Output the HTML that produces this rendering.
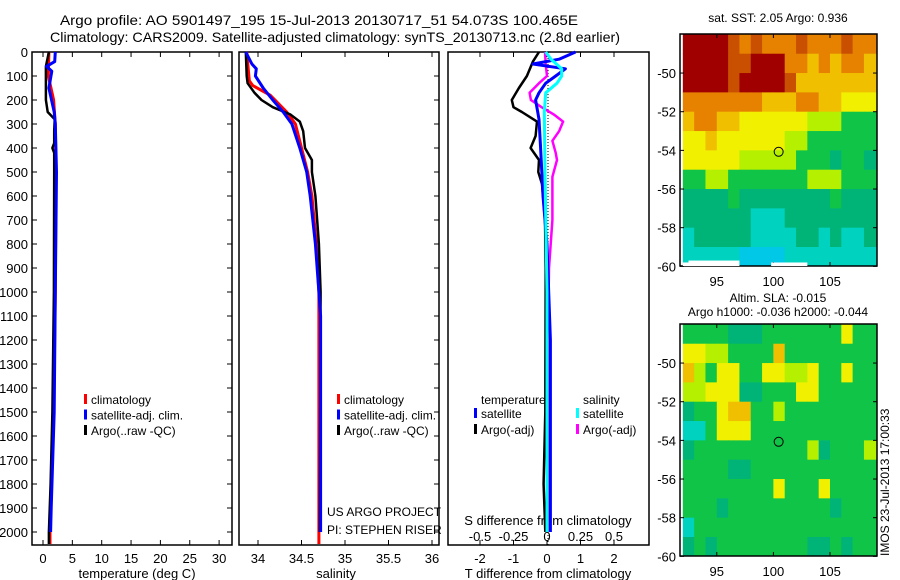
<!DOCTYPE html>
<html><head><meta charset="utf-8"><style>
body{margin:0;background:#fff}
svg{display:block;font-family:"Liberation Sans",sans-serif}
</style></head><body>
<svg id="c" width="900" height="580" viewBox="0 0 900 580">
<text x="60" y="25" font-size="14" textLength="518" lengthAdjust="spacingAndGlyphs">Argo profile: AO 5901497_195 15-Jul-2013 20130717_51 54.073S 100.465E</text>
<text x="50" y="42" font-size="14" textLength="570" lengthAdjust="spacingAndGlyphs">Climatology: CARS2009. Satellite-adjusted climatology: synTS_20130713.nc (2.8d earlier)</text>
<text x="778" y="22" font-size="12" text-anchor="middle">sat. SST: 2.05 Argo: 0.936</text>
<text x="778" y="302" font-size="12" text-anchor="middle">Altim. SLA: -0.015</text>
<text x="778" y="316" font-size="12" text-anchor="middle">Argo h1000: -0.036 h2000: -0.044</text>
<text x="0" y="0" font-size="12" transform="translate(889,556) rotate(-90)">IMOS 23-Jul-2013 17:00:33</text>
</svg>
<script>
// ---- data ----
const depthTicks=[0,100,200,300,400,500,600,700,800,900,1000,1100,1200,1300,1400,1500,1600,1700,1800,1900,2000];
const tempTicks=[0,5,10,15,20,25,30];
const salTicks=[34,34.5,35,35.5,36];
const tdiffTicks=[-2,-1,0,1,2];
const sdiffTicks=[-0.5,-0.25,0,0.25,0.5];
const lonTicks=[95,100,105];
const latTicks=[-50,-52,-54,-56,-58,-60];

const tArgoD=[0,60,200,250,280,330,380,400,420,500,1000,1500,1800,2000,2050];
const tArgoV=[1.0,0.5,0.5,0.8,2.0,1.9,1.9,1.6,1.9,1.9,1.85,1.6,1.3,1.0,1.0];
const tClimD=[0,100,200,300,500,1000,1500,1900,2000,2050];
const tClimV=[1.0,0.9,1.8,2.1,2.2,2.1,1.8,1.3,1.2,1.2];
const tSatD=[0,40,60,80,150,250,300,500,1000,1500,1900,2000];
const tSatV=[2.1,2.0,0.6,1.5,1.0,1.9,2.1,2.3,2.1,1.9,1.4,1.3];

const sArgoD=[0,100,130,170,200,230,260,290,330,400,450,500,600,800,1000,2000];
const sArgoV=[33.86,33.87,33.88,33.96,34.04,34.17,34.37,34.48,34.52,34.54,34.62,34.62,34.66,34.70,34.72,34.71];
const sClimD=[0,120,140,180,250,300,400,500,600,800,1000,2050];
const sClimV=[33.87,33.9,33.94,34.14,34.33,34.43,34.5,34.57,34.62,34.67,34.70,34.70];
const sSatD=[0,50,70,100,150,200,250,300,400,500,600,800,1000,1100,2000];
const sSatV=[33.86,33.93,33.98,33.97,34.06,34.17,34.29,34.39,34.48,34.56,34.6,34.66,34.70,34.72,34.72];

const dtArgoD=[0,40,100,150,200,230,250,290,350,400,450,500,550,700,900,1500,1800,2000];
const dtArgoV=[-0.24,-0.42,-0.6,-0.84,-1.05,-1.0,-0.75,-0.3,-0.34,-0.49,-0.24,-0.26,-0.15,-0.06,-0.04,-0.05,-0.1,-0.05];
const dtSatD=[0,30,50,70,100,130,170,200,280,400,600,800,1200,2000];
const dtSatV=[0.85,0.36,-0.42,0.55,0.26,-0.04,-0.24,-0.34,-0.24,-0.19,-0.12,0.0,0.1,0.1];
const dsSatD=[0,30,70,100,130,170,250,500,1000,2000];
const dsSatV=[-0.01,0.03,0.11,0.11,0.075,-0.01,-0.02,-0.015,0,0];
const dsArgoD=[0,50,100,130,170,200,230,260,290,330,370,420,450,520,700,900,1100,2000];
const dsArgoV=[-0.015,-0.01,0,-0.06,-0.13,-0.12,-0.04,0.05,0.12,0.09,0.04,0.065,0.075,0.04,0.04,0.015,0.01,0.005];

// map grids: rows lat -48..-60 (1 deg), cols lon 92..109 (1 deg); colour level 0-10
const sstGrid=[
[10,10,10,10,9,8,9,8,8,8,9,8,8,8,9,8,8],
[10,10,10,10,9,9,10,10,10,8,8,7,8,7,8,8,7],
[10,10,10,10,9,10,10,10,10,9,7,7,7,7,7,7,7],
[8,8,8,8,8,8,8,7,7,7,8,8,7,7,6,6,6],
[7,8,8,7,7,6,6,6,6,6,6,5,5,5,4,4,4],
[6,6,7,6,6,6,6,6,6,5,5,4,4,4,4,4,4],
[6,6,6,6,6,5,5,5,5,5,4,4,4,3,4,4,3],
[4,4,5,5,4,4,4,4,4,4,4,5,5,5,4,4,4],
[3,3,3,3,4,3,3,3,3,3,3,3,3,4,3,3,3],
[3,3,3,3,3,3,2,2,2,3,3,3,3,3,3,3,3],
[2,3,3,3,3,3,2,2,2,2,3,3,2,3,2,2,3],
[2,2,2,2,2,1,1,1,1,2,2,2,2,2,2,2,2]];
const slaGrid=[
[4,4,4,4,3,3,3,4,4,4,4,4,4,4,6,4,4],
[6,6,5,5,4,4,4,4,7,4,4,4,4,4,4,4,4],
[7,5,4,6,6,4,4,6,6,5,5,6,4,4,6,4,4],
[5,5,6,6,6,3,3,4,4,4,6,6,4,4,4,4,4],
[3,4,4,6,7,7,4,4,5,4,4,4,4,4,4,4,4],
[2,2,4,6,6,6,4,4,4,4,4,4,4,4,4,4,4],
[3,4,4,4,4,4,4,4,4,4,4,5,3,4,4,4,5],
[4,4,4,4,3,3,4,4,4,4,4,4,4,4,4,4,4],
[4,4,4,4,4,4,4,4,6,4,4,4,6,4,4,4,4],
[4,4,4,3,4,4,4,4,4,4,4,4,4,3,4,4,4],
[2,4,4,4,4,4,4,4,4,4,4,4,4,4,4,4,4],
[3,4,3,4,4,4,4,4,4,4,4,3,3,4,3,4,4]];
const argoLon=100.465, argoLat=-54.073;

// ---- drawing ----
const svg=document.getElementById('c');
const NS='http://www.w3.org/2000/svg';
function mk(tag,attrs,parent){const e=document.createElementNS(NS,tag);for(const k in attrs)e.setAttribute(k,attrs[k]);(parent||svg).appendChild(e);return e;}
const yD=d=>52+d*0.24;
const xT=v=>43+v*5.87;
const xS=v=>258+(v-34)*87;
const xDT=v=>547+v*33.5;
const xDS=v=>547+v*134;
const TOP=52,BOT=545;
const colors=['#1e90ff','#00c8e6','#00d2c0','#00b478','#10c448','#b4f000','#f0f000','#f0c000','#e68200','#c85000','#a00000'];
const mapL=680,mapR=877;
const xLon=v=>mapL+(v-91.75)*11.32;
const yLat=(v,off)=>off+34+(-47.98-v)*19.33;

function axesBox(x0,x1,name){
  const r=mk('rect',{x:x0,y:TOP,width:x1-x0,height:BOT-TOP,fill:'none',stroke:'#000','stroke-width':1.5});
  
  
}
axesBox(32,232,'temperature-axes');
axesBox(239,439,'salinity-axes');
axesBox(448,649,'difference-axes');

depthTicks.forEach(d=>{
  const y=yD(d);
  mk('line',{x1:32,x2:37,y1:y,y2:y,stroke:'#000'});
  mk('line',{x1:227,x2:232,y1:y,y2:y,stroke:'#000'});
  mk('line',{x1:434,x2:439,y1:y,y2:y,stroke:'#000'});
  const t=mk('text',{x:28,y:y+5,'font-size':13,'text-anchor':'end'});t.textContent=d;
  
  
});
function xticks(arr,fx,y,name){
  arr.forEach(v=>{const x=fx(v);
    mk('line',{x1:x,x2:x,y1:TOP,y2:TOP+5,stroke:'#000'});
    mk('line',{x1:x,x2:x,y1:BOT,y2:BOT-5,stroke:'#000'});
    const t=mk('text',{x:x,y:y,'font-size':13,'text-anchor':'middle'});t.textContent=v;
    
    
  });
}
xticks(tempTicks,xT,563,'temperature-tick-label');
xticks(salTicks,xS,563,'salinity-tick-label');
xticks(tdiffTicks,xDT,563,'tdiff-tick-label');
sdiffTicks.forEach(v=>{const t=mk('text',{x:xDS(v),y:541,'font-size':13,'text-anchor':'middle'});t.textContent=v;
  
  });
function lbl(x,y,s,name,anchor,fs){const t=mk('text',{x:x,y:y,'font-size':fs||13,'text-anchor':anchor||'middle'});t.textContent=s;
  
  return t;}
lbl(137,578,'temperature (deg C)','temperature-axis-title');
lbl(336,578,'salinity','salinity-axis-title');
lbl(548,578,'T difference from climatology','tdiff-axis-title');
lbl(548,525,'S difference from climatology','sdiff-axis-title');

const zl=mk('line',{x1:548,x2:548,y1:TOP,y2:BOT,stroke:'#000','stroke-dasharray':'1,2'});



function prof(D,V,fx,col,w,name){
  let p='';D.forEach((d,i)=>{p+=(i?'L':'M')+fx(V[i]).toFixed(1)+' '+yD(d).toFixed(1)});
  const e=mk('path',{d:p,fill:'none',stroke:col,'stroke-width':w,'stroke-linejoin':'round'});
  
  
}
prof(tClimD,tClimV,xT,'#ff0000',3,'temperature-climatology-line');
prof(tArgoD,tArgoV,xT,'#000',2.5,'temperature-argo-line');
prof(tSatD,tSatV,xT,'#0000ff',3,'temperature-satellite-line');
prof(sClimD,sClimV,xS,'#ff0000',3,'salinity-climatology-line');
prof(sArgoD,sArgoV,xS,'#000',2.5,'salinity-argo-line');
prof(sSatD,sSatV,xS,'#0000ff',3,'salinity-satellite-line');
prof(dtArgoD,dtArgoV,xDT,'#000',2.5,'tdiff-argo-line');
prof(dsArgoD,dsArgoV,xDS,'#ff00ff',2.5,'sdiff-argo-line');
prof(dtSatD,dtSatV,xDT,'#0000ff',3,'tdiff-satellite-line');
prof(dsSatD,dsSatV,xDS,'#00ffff',3,'sdiff-satellite-line');

function leg(x,y,col,s,name){
  mk('rect',{x:x,y:y-10,width:3,height:10,fill:col});
  lbl(x+7,y,s,name,'start',12);
}
[[84,'climatology','#ff0000'],[84,'satellite-adj. clim.','#0000ff'],[84,'Argo(..raw -QC)','#000']].forEach((a,i)=>leg(a[0],404+i*15.5,a[2],a[1],'temp-legend-entry'));
[[337,'climatology','#ff0000'],[337,'satellite-adj. clim.','#0000ff'],[337,'Argo(..raw -QC)','#000']].forEach((a,i)=>leg(a[0],404+i*15.5,a[2],a[1],'sal-legend-entry'));
lbl(481,404,'temperature','legend-temperature-header','start',12);
lbl(583,404,'salinity','legend-salinity-header','start',12);
leg(474,418,'#0000ff','satellite','tdiff-legend-satellite');
leg(474,434,'#000','Argo(-adj)','tdiff-legend-argo');
leg(576,418,'#00ffff','satellite','sdiff-legend-satellite');
leg(576,434,'#ff00ff','Argo(-adj)','sdiff-legend-argo');
lbl(327,516,'US ARGO PROJECT','project-label','start',12);
lbl(327,534,'PI: STEPHEN RISER','pi-label','start',12);

function drawMap(grid,off,name){
  const g=mk('g',{});
  
  
  grid.forEach((row,r)=>row.forEach((v,c)=>{
    const x0=Math.max(mapL,xLon(92+c)),x1=c==row.length-1?mapR:xLon(93+c);
    const y0=r==0?off+34:yLat(-48-r,off),y1=r==grid.length-1?off+266:yLat(-49-r,off);
    const e=mk('rect',{x:x0,y:y0,width:x1-x0+0.5,height:y1-y0+0.5,fill:colors[v]},g);
    
    
  }));
  const b=mk('rect',{x:mapL,y:off+34,width:mapR-mapL,height:232,fill:'none',stroke:'#000','stroke-width':1.5});
  
  
  lonTicks.forEach(v=>{const x=xLon(v);
    mk('line',{x1:x,x2:x,y1:off+34,y2:off+38,stroke:'#000'});
    mk('line',{x1:x,x2:x,y1:off+266,y2:off+262,stroke:'#000'});
    lbl(x,off+286,v,'lon-tick-label');});
  latTicks.forEach(v=>{const y=yLat(v,off);
    mk('line',{x1:mapL,x2:mapL+4,y1:y,y2:y,stroke:'#000'});
    mk('line',{x1:mapR,x2:mapR-4,y1:y,y2:y,stroke:'#000'});
    lbl(676,y+5,v,'lat-tick-label','end');});
  const ci=mk('circle',{cx:xLon(argoLon),cy:yLat(argoLat,off),r:4.5,fill:'none',stroke:'#000','stroke-width':1});
  
  
}
drawMap(sstGrid,0,'sst-map');
drawMap(slaGrid,290,'sla-map');
[[92,92.5,-59.8],[92.5,97,-59.7],[99.8,103,-59.8]].forEach(a=>{
  const e=mk('rect',{x:xLon(Math.max(a[0],91.75)),y:yLat(a[2],0),width:xLon(a[1])-xLon(Math.max(a[0],91.75)),height:266-yLat(a[2],0),fill:'#fff'});
  
  
});
</script>
</body></html>
